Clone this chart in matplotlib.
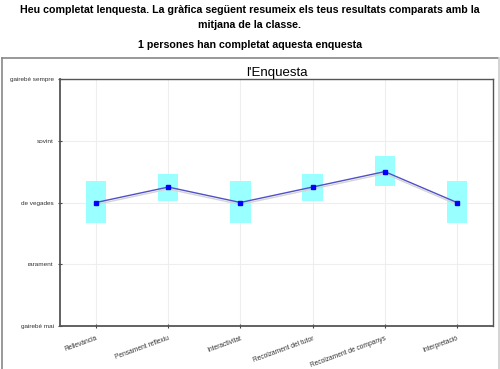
import matplotlib
matplotlib.use('Agg')
import matplotlib.pyplot as plt
import matplotlib.transforms as mtransforms
from matplotlib.patches import Rectangle
from matplotlib.lines import Line2D

# Survey scores (1 = gairebé mai ... 5 = gairebé sempre)
categories = ['Rellevància', 'Pensament reflexiu', 'Interactivitat',
              'Recolzament del tutor', 'Recolzament de companys', 'Interpretació']
levels = ['gairebé mai', 'rarament', 'de vegades', 'sovint', 'gairebé sempre']
student = [3.0, 3.25, 3.0, 3.25, 3.5, 3.0]
class_mean = [3.0, 3.25, 3.0, 3.25, 3.5, 3.0]
box_low = [2.66, 3.03, 2.66, 3.03, 3.26, 2.66]
box_high = [3.35, 3.46, 3.35, 3.46, 3.75, 3.35]

plt.rcParams['font.family'] = ['Liberation Sans', 'DejaVu Sans']

W, H = 500, 369
fig = plt.figure(figsize=(W/100, H/100), dpi=100)
fig.patch.set_facecolor('white')

# Header text
fig.text(0.5, 1-10/H, 'Heu completat lenquesta. La gràfica següent resumeix els teus resultats comparats amb la',
         ha='center', va='center', fontsize=7.7, fontweight='bold')
fig.text(0.5, 1-25/H, 'mitjana de la classe.', ha='center', va='center', fontsize=7.7, fontweight='bold')
fig.text(0.5, 1-45/H, '1 persones han completat aquesta enquesta',
         ha='center', va='center', fontsize=7.7, fontweight='bold')

# frame around the chart image
def px_line(x0, y0, x1, y1, color, lw=1.2):
    fig.add_artist(Line2D([x0/W, x1/W], [1-y0/H, 1-y1/H], transform=fig.transFigure,
                          color=color, lw=lw))
px_line(2, 57.5, 498, 57.5, '#888888')
px_line(2, 57.5, 2, H, '#888888')
px_line(498.5, 57.5, 498.5, H, '#cccccc')

ax = fig.add_axes([60/W, 1-326/H, (493-60)/W, (326-79)/H])
x = list(range(len(categories)))

# spread boxes
for i in x:
    ax.add_patch(Rectangle((i-0.14, box_low[i]), 0.28, box_high[i]-box_low[i],
                           facecolor='#99ffff', edgecolor='none', zorder=2))

# class mean line, drawn a couple of pixels lower like a shadow
shadow = mtransforms.offset_copy(ax.transData, fig=fig, x=0, y=-2, units='dots')
ax.plot(x, class_mean, color='#d4d4d4', lw=1, transform=shadow, zorder=3)
ax.plot(x, student, color='#5050c8', lw=1, marker='s', markersize=2.5,
        markerfacecolor='#0000ff', markeredgecolor='#0000ff', zorder=4)

ax.set_xlim(-0.5, 5.5)
ax.set_ylim(1, 5)
ax.set_yticks([1, 2, 3, 4, 5])
ax.set_yticklabels(levels, fontsize=4.6, color='#333333')
ax.set_xticks(x)
ax.set_xticklabels(categories, fontsize=4.8, color='#333333', rotation=20, ha='right',
                   rotation_mode='anchor')
ax.tick_params(axis='both', direction='inout', length=3, width=0.8, color='#444444')
ax.tick_params(axis='y', pad=3)
ax.tick_params(axis='x', pad=5)
ax.grid(True, color='#eeeeee', lw=0.8, zorder=0)
ax.set_axisbelow(True)
for s in ax.spines.values():
    s.set_color('#555555')
    s.set_linewidth(1)
ax.spines['left'].set_linewidth(1.3)
ax.spines['bottom'].set_linewidth(1.3)

ax.set_title("l'Enquesta", fontsize=9.5, pad=1.5)

fig.savefig('out.png', dpi=100)
